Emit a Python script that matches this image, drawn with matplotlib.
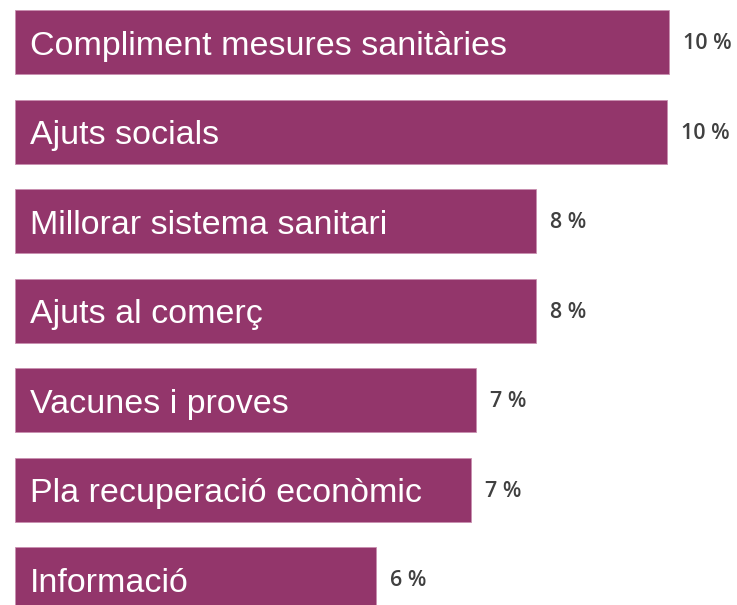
import numpy as np
import matplotlib.pyplot as plt

# Categories and their shares (%), top to bottom
categories = ['Compliment mesures sanitàries', 'Ajuts socials', 'Millorar sistema sanitari',
              'Ajuts al comerç', 'Vacunes i proves', 'Pla recuperació econòmic', 'Informació']
values = [10.4, 10.36, 8.28, 8.28, 7.33, 7.25, 5.74]
value_labels = ['10 %', '10 %', '8 %', '8 %', '7 %', '7 %', '6 %']

bar_color = '#93366B'
W, H, DPI = 737, 605, 100
px_per_unit = 62.9
x0_px = 15
pitch_px = 89.5
first_center_px = 42

fig = plt.figure(figsize=(W / DPI, H / DPI), dpi=DPI)
ax = fig.add_axes([0, 0, 1, 1])

y = np.arange(len(categories))
ax.barh(y, values, height=64 / pitch_px, color=bar_color, edgecolor='#C98FB0', linewidth=0.6)

ax.set_xlim(-x0_px / px_per_unit, (W - x0_px) / px_per_unit)
ax.set_ylim((H - first_center_px) / pitch_px, -first_center_px / pitch_px)

for yi, cat, v, lab in zip(y, categories, values, value_labels):
    ax.text(15 / px_per_unit, yi + 0.05, cat, color='white', fontsize=24.5,
            family='Liberation Sans', va='center', ha='left')
    ax.text(v + 14 / px_per_unit, yi + 0.02, lab, color='#404040', fontsize=15.5,
            family='Open Sans', fontweight='semibold', va='center', ha='left')

ax.axis('off')
fig.savefig('out.png', dpi=DPI)
